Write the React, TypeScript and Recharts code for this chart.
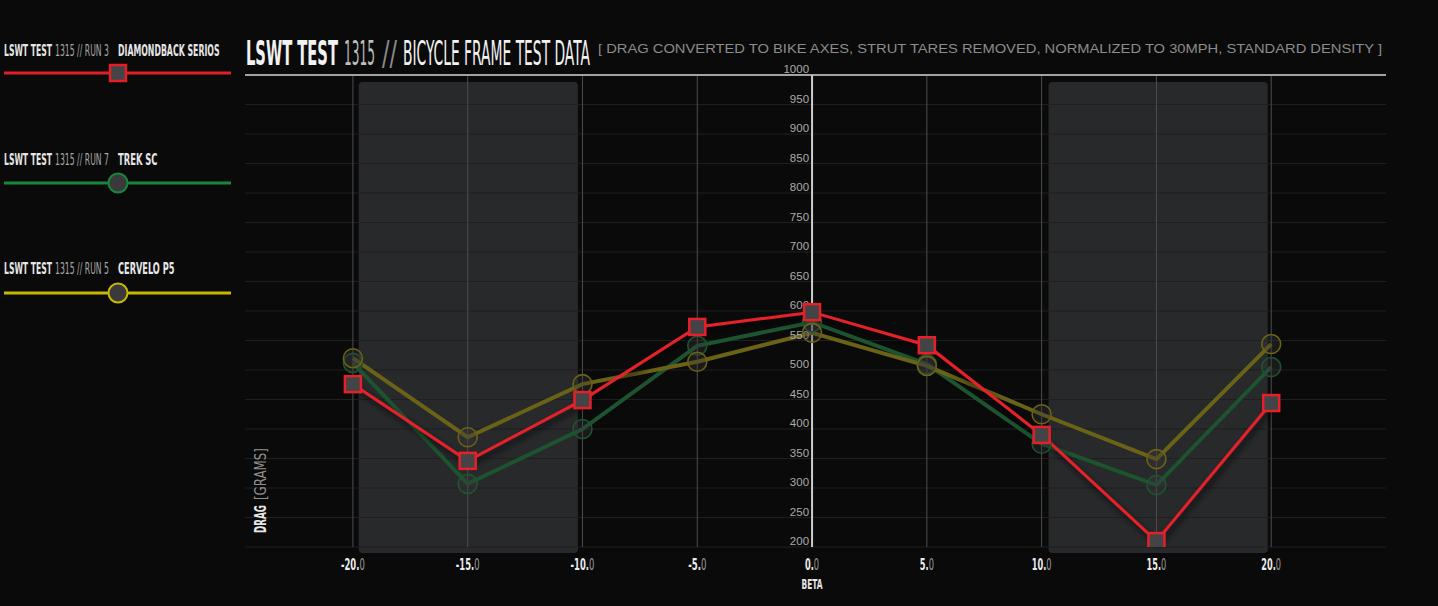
import React, { useLayoutEffect, useRef } from 'react';
import { LineChart, Line, XAxis, YAxis, ReferenceLine, ReferenceArea, ReferenceDot, Rectangle } from 'recharts';

// ---------- data ----------
const betaValues = [-20, -15, -10, -5, 0, 5, 10, 15, 20];
const diamondbackSerios = [476, 346, 449, 573, 598, 542, 390, 210, 444];
const trekSC = [512, 307, 400, 541, 581, 510, 375, 305, 505];
const cerveloP5 = [520, 386, 476, 514, 563, 507, 425, 349, 544];

const xTicks = [-20, -15, -10, -5, 0, 5, 10, 15, 20];
const xTickLabels = ['-20.0', '-15.0', '-10.0', '-5.0', '0.0', '5.0', '10.0', '15.0', '20.0'];
const yTicks = [200, 250, 300, 350, 400, 450, 500, 550, 600, 650, 700, 750, 800, 850, 900, 950, 1000];
const bandRanges = [[-19.75, -10.2], [10.3, 19.85]];
const bandTop = 988;
const bandBottom = 190;

const legendItems = [
  { run: 'RUN 3', name: 'DIAMONDBACK SERIOS', color: '#e21f27', marker: 'square' },
  { run: 'RUN 7', name: 'TREK SC', color: '#17873a', marker: 'circle' },
  { run: 'RUN 5', name: 'CERVELO P5', color: '#c9b800', marker: 'circle' },
];

const data = betaValues.map((b, i) => ({
  beta: b,
  diamondback: diamondbackSerios[i],
  trek: trekSC[i],
  cervelo: cerveloP5[i],
}));

// ---------- styles ----------
const COND = "'DejaVu Sans Condensed','Liberation Sans Narrow','Roboto Condensed',Roboto,'Noto Sans',sans-serif";
const SANS = "'Liberation Sans',Arial,'Noto Sans',sans-serif";
const BG = '#0a0a0a';
const RED = '#e5202a';
const GREEN_DIM = '#1d5430';
const YELLOW_DIM = '#6a6217';

const charW = (s: string) =>
  s.split('').reduce((a, c) => a + (c === '.' ? 3 : c === '-' ? 4 : c === ' ' ? 3 : 5.6), 0);

// Text squeezed horizontally (via transform, set imperatively) to a target width.
function FitText(props: any) {
  const { x, y, width, anchor = 'start', rotate = 0, children, ...rest } = props;
  const gRef = useRef<SVGGElement>(null);
  const tRef = useRef<SVGTextElement>(null);
  useLayoutEffect(() => {
    const t = tRef.current;
    const g = gRef.current;
    if (!t || !g) return;
    const w = t.getComputedTextLength();
    const s = w > 0 ? width / w : 1;
    g.setAttribute('transform', `translate(${x},${y}) rotate(${rotate}) scale(${s},1)`);
  });
  return (
    <g ref={gRef} transform={`translate(${x},${y}) rotate(${rotate})`}>
      <text ref={tRef} x={0} y={0} textAnchor={anchor} {...rest}>
        {children}
      </text>
    </g>
  );
}

const XTick = (props: any) => {
  const { x, y, payload } = props;
  const idx = xTicks.indexOf(payload.value);
  const label = idx >= 0 ? xTickLabels[idx] : String(payload.value);
  const head = label.slice(0, -1);
  const tail = label.slice(-1);
  return (
    <FitText x={x} y={y + 23} width={charW(label)} anchor="middle" fontFamily={COND} fontSize={15}>
      <tspan fontWeight="bold" fill="#ececec">{head}</tspan>
      <tspan fill="#9a9a9a">{tail}</tspan>
    </FitText>
  );
};

const SquareDot = (p: any) => {
  if (p.cx == null || p.cy == null) return <g key={`s-${p.index}`} />;
  return (
    <rect
      key={`s-${p.index}`}
      x={p.cx - 8}
      y={p.cy - 8}
      width={16}
      height={16}
      fill="#444446"
      stroke={RED}
      strokeWidth={2.5}
    />
  );
};

const makeCircleDot = (stroke: string, prefix: string) => (p: any) => {
  if (p.cx == null || p.cy == null) return <g key={`${prefix}-${p.index}`} />;
  return (
    <circle
      key={`${prefix}-${p.index}`}
      cx={p.cx}
      cy={p.cy}
      r={9.5}
      fill="rgba(58,58,60,0.35)"
      stroke={stroke}
      strokeWidth={1.6}
    />
  );
};

const LegendText = ({ y, run, name }: { y: number; run: string; name: string }) => (
  <g>
    <FitText x={4} y={y} width={48} fontFamily={COND} fontSize={15} fill="#e6e6e6" fontWeight="bold">
      LSWT TEST
    </FitText>
    <FitText x={55} y={y} width={54} fontFamily={COND} fontSize={15} fill="#a6a6a6">
      {`1315 // ${run}`}
    </FitText>
    <FitText x={118} y={y} width={name.length * 5.65} fontFamily={COND} fontSize={15} fill="#e6e6e6" fontWeight="bold">
      {name}
    </FitText>
  </g>
);

export default function App() {
  return (
    <div
      style={{
        position: 'absolute',
        left: 0,
        top: 0,
        width: 1438,
        height: 606,
        background: BG,
        overflow: 'hidden',
      }}
    >
      <svg width={0} height={0} style={{ position: 'absolute' }}>
        <defs>
          <filter id="redShadow" x="-20%" y="-20%" width="140%" height="140%">
            <feDropShadow dx={2} dy={4} stdDeviation={3} floodColor="#000" floodOpacity={0.85} />
          </filter>
        </defs>
      </svg>
      <style>{`.red-line { filter: url(#redShadow); }`}</style>

      <div style={{ position: 'absolute', left: 0, top: 0 }}>
        <LineChart
          width={1438}
          height={606}
          data={data}
          margin={{ top: 75, right: 52, left: 245, bottom: 29 }}
        >
          <XAxis
            dataKey="beta"
            type="number"
            domain={[-24.7, 25]}
            ticks={xTicks}
            allowDataOverflow
            axisLine={false}
            tickLine={false}
            tickSize={0}
            tickMargin={0}
            height={30}
            tick={<XTick />}
            interval={0}
          />
          <YAxis hide type="number" domain={[200, 1000]} ticks={yTicks} allowDataOverflow />

          {bandRanges.map(([a, b], i) => (
            <ReferenceArea
              key={`band-${i}`}
              x1={a}
              x2={b}
              y1={bandBottom}
              y2={bandTop}
              ifOverflow="visible"
              fill="#28292b"
              fillOpacity={1}
              stroke="none"
              shape={(p: any) => <Rectangle {...p} radius={4} />}
            />
          ))}

          {yTicks
            .filter((v) => v !== 1000)
            .map((v) => (
              <ReferenceLine key={`hg-${v}`} y={v} stroke="#1f1f20" strokeWidth={1} />
            ))}

          {xTicks
            .filter((v) => v !== 0)
            .map((v) => (
              <ReferenceLine key={`vg-${v}`} x={v} stroke="#4e4e50" strokeWidth={1} />
            ))}

          <ReferenceLine y={1000} stroke="#a2a2a2" strokeWidth={2} />
          <ReferenceLine x={0} stroke="#cdcdcd" strokeWidth={2} />

          {yTicks.map((v) => (
            <ReferenceDot
              key={`yl-${v}`}
              x={0}
              y={v}
              r={0}
              shape={(p: any) => (
                <text
                  x={p.cx - 3}
                  y={p.cy - 2}
                  textAnchor="end"
                  fontFamily={SANS}
                  fontSize={11.5}
                  fill="#ababab"
                >
                  {v}
                </text>
              )}
            />
          ))}

          <Line
            dataKey="trek"
            stroke={GREEN_DIM}
            strokeWidth={4}
            dot={makeCircleDot(GREEN_DIM, 'g')}
            activeDot={false}
            isAnimationActive={false}
          />
          <Line
            dataKey="cervelo"
            stroke={YELLOW_DIM}
            strokeWidth={4}
            dot={makeCircleDot(YELLOW_DIM, 'y')}
            activeDot={false}
            isAnimationActive={false}
          />
          <Line
            className="red-line"
            dataKey="diamondback"
            stroke={RED}
            strokeWidth={3}
            dot={SquareDot}
            activeDot={false}
            isAnimationActive={false}
          />
        </LineChart>
      </div>

      <svg
        width={1438}
        height={606}
        style={{ position: 'absolute', left: 0, top: 0, pointerEvents: 'none' }}
      >
        {/* title */}
        <FitText x={246} y={65} width={92} fontFamily={COND} fontSize={34} fill="#f2f2f2" fontWeight="bold">
          LSWT TEST
        </FitText>
        <FitText x={344} y={65} width={31} fontFamily={COND} fontSize={34} fill="#bdbdbd">
          1315
        </FitText>
        <FitText x={382} y={65} width={15} fontFamily={COND} fontSize={34} fill="#8a8a8a">
          //
        </FitText>
        <FitText x={403} y={65} width={187} fontFamily={COND} fontSize={34} fill="#f2f2f2">
          BICYCLE FRAME TEST DATA
        </FitText>
        <FitText x={598} y={53} width={785} fontFamily={SANS} fontSize={12} fill="#8c8c8c">
          [ DRAG CONVERTED TO BIKE AXES, STRUT TARES REMOVED, NORMALIZED TO 30MPH, STANDARD DENSITY ]
        </FitText>

        {/* y axis title */}
        <FitText x={266} y={533} rotate={-90} width={28} fontFamily={COND} fontSize={16} fill="#e6e6e6" fontWeight="bold">
          DRAG
        </FitText>
        <FitText x={266} y={500} rotate={-90} width={52} fontFamily={COND} fontSize={16} fill="#8f8f8f">
          [GRAMS]
        </FitText>

        {/* x axis title */}
        <FitText x={812} y={589} width={21} anchor="middle" fontFamily={COND} fontSize={14} fontWeight="bold" fill="#e6e6e6">
          BETA
        </FitText>

        {/* legend */}
        {legendItems.map((it, i) => {
          const textY = [56, 165, 274][i];
          const lineY = [73, 183, 293][i];
          return (
            <g key={`leg-${i}`}>
              <LegendText y={textY} run={it.run} name={it.name} />
              <line x1={4} x2={231} y1={lineY} y2={lineY} stroke={it.color} strokeWidth={3} />
              {it.marker === 'square' ? (
                <rect x={110} y={lineY - 8} width={16} height={16} fill="#444446" stroke={it.color} strokeWidth={2.5} />
              ) : (
                <circle cx={118} cy={lineY} r={9.5} fill="#3a3a3c" stroke={it.color} strokeWidth={2} />
              )}
            </g>
          );
        })}
      </svg>
    </div>
  );
}
